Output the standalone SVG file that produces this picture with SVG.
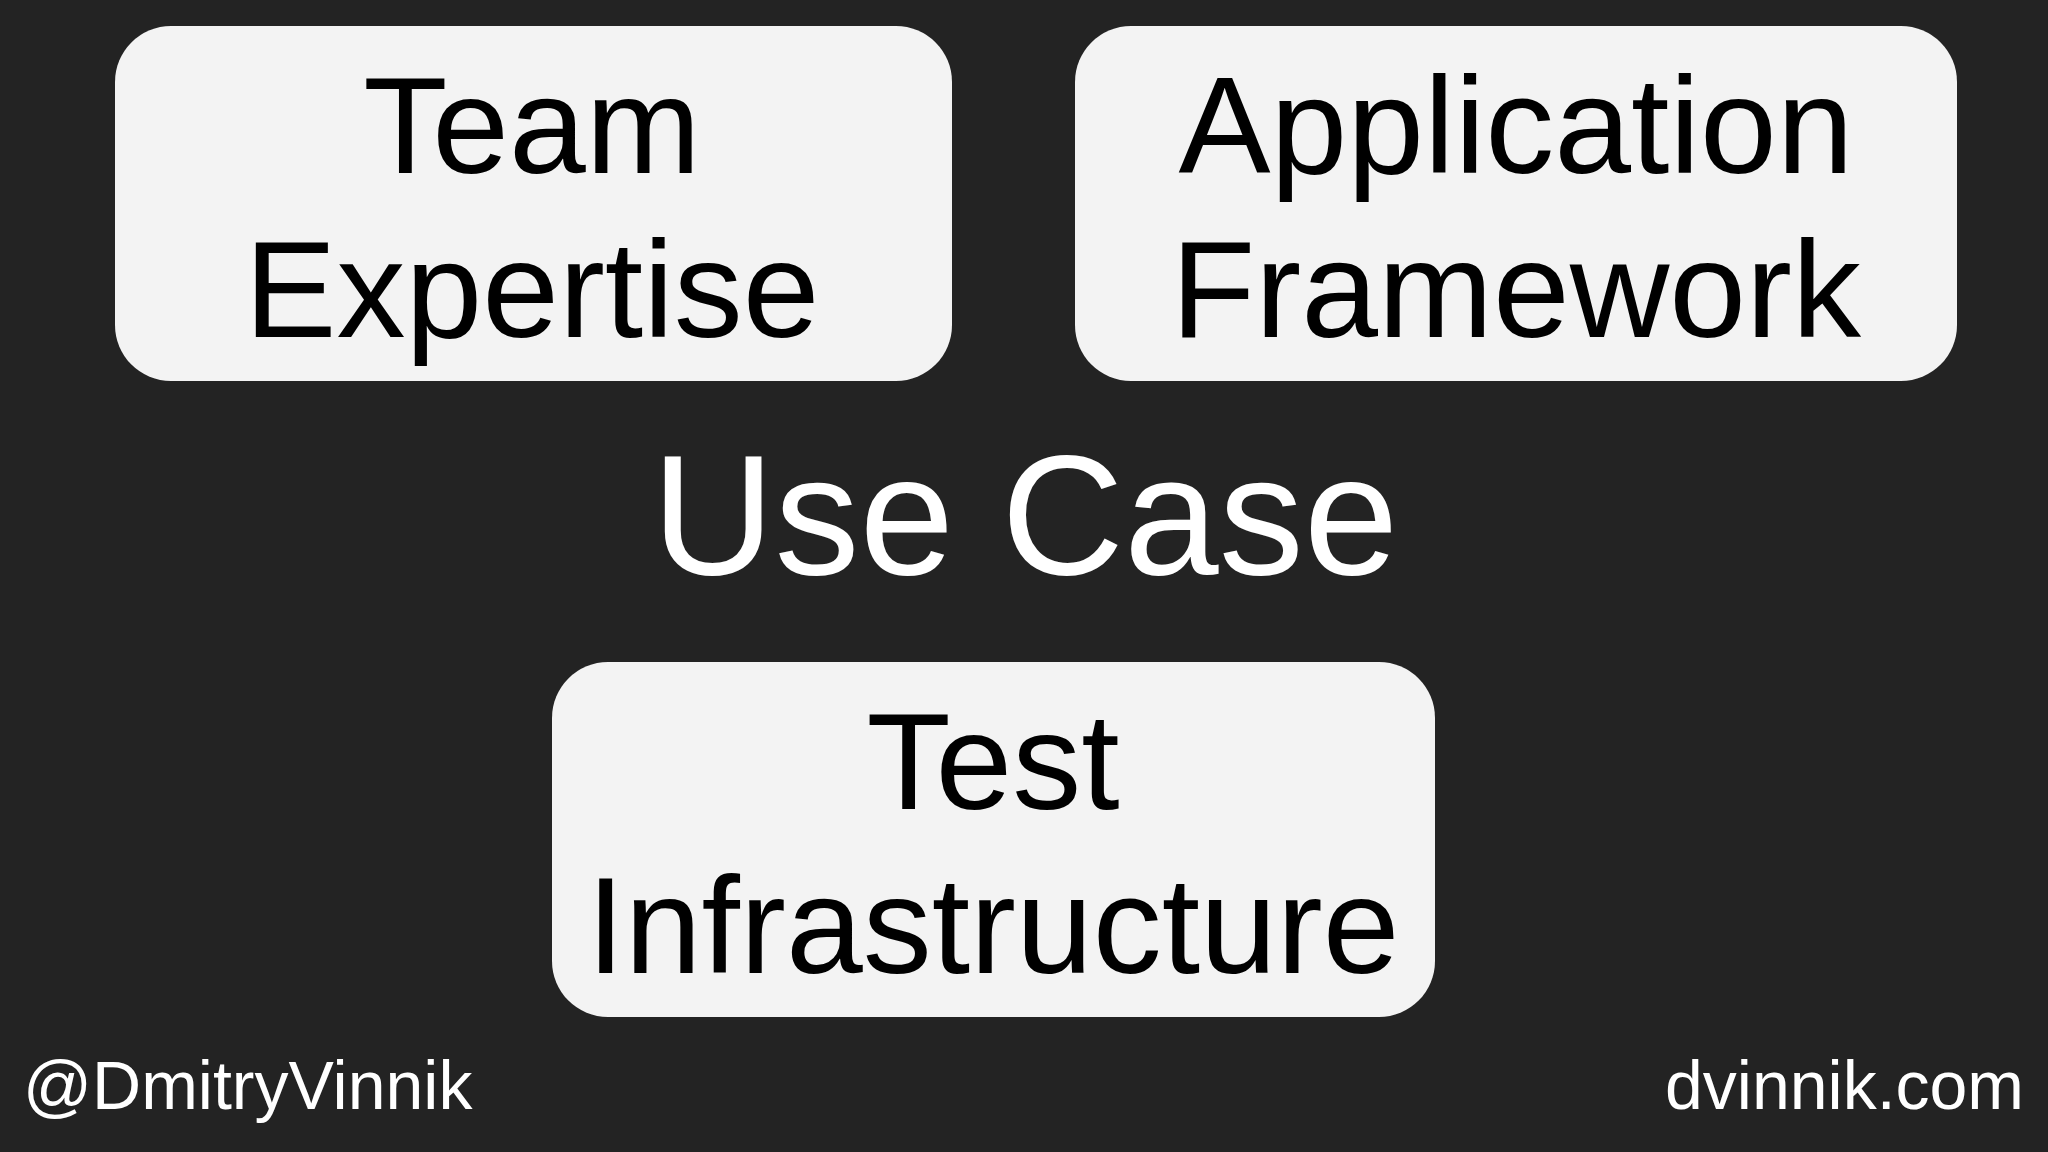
<svg xmlns="http://www.w3.org/2000/svg" width="2048" height="1152" viewBox="0 0 2048 1152">
  <style>
    .box { fill: #f3f3f3; }
    .lbl { font-family: "Liberation Sans", Arial, sans-serif; font-size: 138px; fill: #000000; text-anchor: middle; }
    .title { font-family: "Liberation Sans", Arial, sans-serif; font-size: 170px; fill: #ffffff; text-anchor: middle; }
    .foot { font-family: "Liberation Sans", Arial, sans-serif; font-size: 68px; fill: #ffffff; }
  </style>
  <rect x="0" y="0" width="2048" height="1152" fill="#232323"/>
  <g id="team-expertise">
    <rect class="box" x="115" y="26" width="837" height="355" rx="56" ry="56"/>
    <text class="lbl" x="532" y="173">Team</text>
    <text class="lbl" x="532" y="337">Expertise</text>
  </g>
  <g id="application-framework">
    <rect class="box" x="1075" y="26" width="882" height="355" rx="56" ry="56"/>
    <text class="lbl" x="1516" y="173">Application</text>
    <text class="lbl" x="1516" y="337">Framework</text>
  </g>
  <g id="use-case">
    <text class="title" x="1025" y="574">Use Case</text>
  </g>
  <g id="test-infrastructure">
    <rect class="box" x="552" y="662" width="883" height="355" rx="56" ry="56"/>
    <text class="lbl" x="993" y="809">Test</text>
    <text class="lbl" x="993" y="973">Infrastructure</text>
  </g>
  <g id="connectors"></g>
  <g id="footer">
    <text class="foot" x="23" y="1109">@DmitryVinnik</text>
    <text class="foot" x="2024" y="1109" text-anchor="end">dvinnik.com</text>
  </g>
</svg>
